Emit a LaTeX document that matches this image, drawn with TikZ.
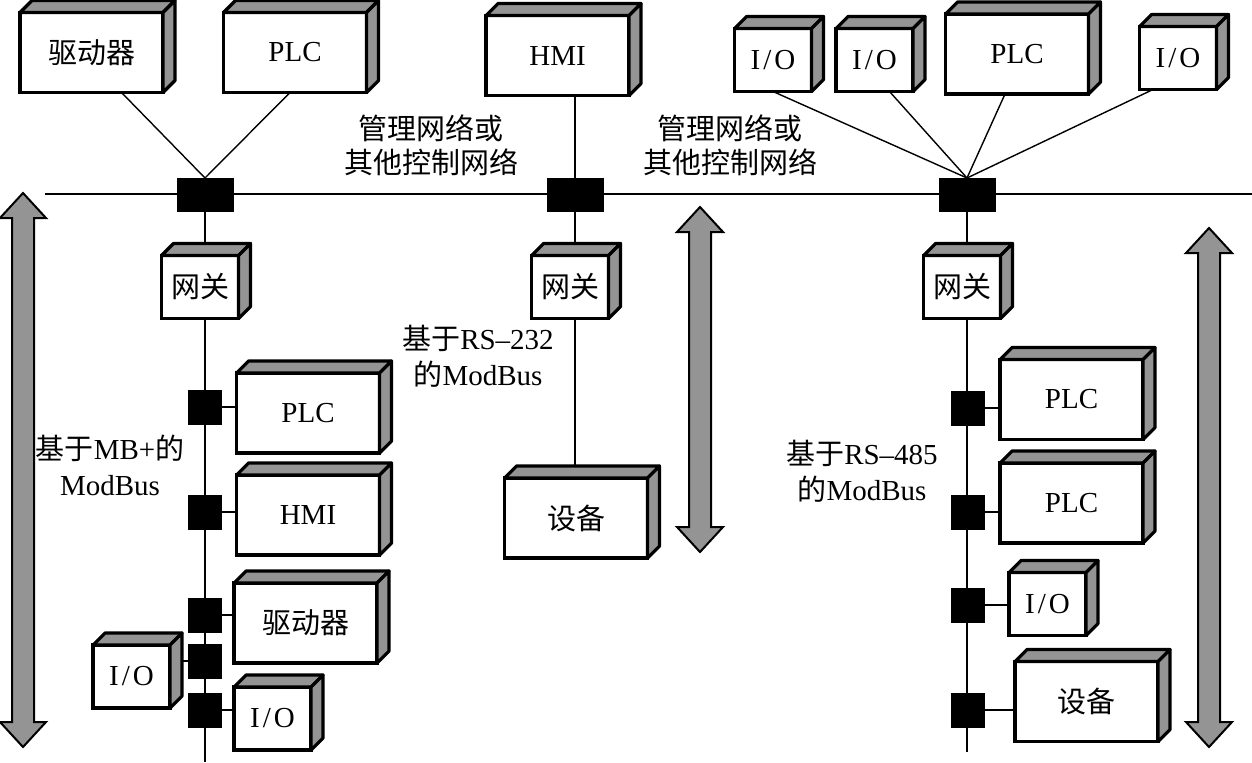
\documentclass[tikz,border=0pt]{standalone}
\usepackage{fontspec}
\setmainfont{Liberation Serif}
\newfontfamily\cjk{Noto Sans CJK SC}
\usetikzlibrary{backgrounds}
\definecolor{facegray}{RGB}{148,148,148}

% top and right face of a device box
\newcommand{\boxfaces}[1]{%
  \filldraw[face] (#1.north west) -- ++(12,-12) -- ([shift={(12,-12)}]#1.north east) -- (#1.north east) -- cycle;
  \filldraw[face] (#1.north east) -- ([shift={(12,-12)}]#1.north east) -- ([shift={(12,-12)}]#1.south east) -- (#1.south east) -- cycle;}
\newcommand{\io}{I\kern1.5pt/\kern1.5pt O}

\begin{document}
\begin{tikzpicture}[x=0.5pt, y=-0.5pt,
  every node/.style={font=\fontsize{14.5}{17}\selectfont},
  bigbox/.style={draw, fill=white, line width=1.6pt, outer sep=0pt, inner sep=0pt, minimum width=71.5pt, minimum height=40pt},
  smallbox/.style={bigbox, minimum width=38.5pt, minimum height=31.5pt},
  face/.style={fill=facegray, draw=black, line width=1.6pt, line join=round},
  busjoint/.style={fill=black, outer sep=0pt, inner sep=0pt, minimum width=28.5pt, minimum height=17pt},
  tapjoint/.style={busjoint, minimum width=17pt, minimum height=17.5pt},
  bus/.style={line width=1.4pt},
  wire/.style={line width=0.7pt},
  fatarrow/.style={fill=facegray, draw=black, line width=1pt}]
\useasboundingbox (0,0) rectangle (1252,762);

% top row
\node[bigbox] (drvT) at (91.5,52.5) {\cjk 驱动器};
\node[bigbox] (plcT) at (295,52.5) {PLC};
\node[bigbox] (hmiT) at (557.5,55.5) {HMI};
\node[smallbox] (ioA) at (773,60) {\io};
\node[smallbox] (ioB) at (874.5,60) {\io};
\node[bigbox] (plcTR) at (1017,54) {PLC};
\node[smallbox] (ioC) at (1178,58) {\io};

\node[busjoint] (jL) at (205,195) {};
\node[busjoint] (jM) at (575,195) {};
\node[busjoint] (jR) at (967,195) {};

\node[align=center, font=\fontsize{14.5}{17}\selectfont\cjk] (netA) at (431,145) {管理网络或\\其他控制网络};
\node[align=center, font=\fontsize{14.5}{17}\selectfont\cjk] (netB) at (730,145) {管理网络或\\其他控制网络};

% gateways
\node[smallbox] (gwL) at (200,287) {\cjk 网关};
\node[smallbox] (gwM) at (570,287) {\cjk 网关};
\node[smallbox] (gwR) at (962,287) {\cjk 网关};

% MB+ branch
\node[tapjoint] (tL1) at (205,407) {};
\node[tapjoint] (tL2) at (205,512) {};
\node[tapjoint] (tL3) at (205,615) {};
\node[tapjoint] (tL4) at (205,661) {};
\node[tapjoint] (tL5) at (205,710) {};
\node[bigbox] (plcL) at (308,413) {PLC};
\node[bigbox] (hmiL) at (308,515) {HMI};
\node[bigbox] (drvL) at (305.5,623) {\cjk 驱动器};
\node[smallbox] (ioL1) at (131.5,676.5) {\io};
\node[smallbox] (ioL2) at (272.5,718.5) {\io};
\node[align=center] (mbL) at (110,465) {{\cjk 基于}MB+{\cjk 的}\\[1pt]ModBus};

% RS-232 branch
\node[bigbox] (devM) at (576,518) {\cjk 设备};
\node[align=center] (rsM) at (478,356) {{\cjk 基于}RS--232\\[1pt]{\cjk 的}ModBus};

% RS-485 branch
\node[tapjoint] (tR1) at (968,408) {};
\node[tapjoint] (tR2) at (968,512) {};
\node[tapjoint] (tR3) at (968,605) {};
\node[tapjoint] (tR4) at (968,710) {};
\node[bigbox] (plcR1) at (1071.5,399.5) {PLC};
\node[bigbox] (plcR2) at (1071.5,503) {PLC};
\node[smallbox] (ioR) at (1047.5,604) {\io};
\node[bigbox] (devR) at (1086.5,701.5) {\cjk 设备};
\node[align=center] (rsR) at (862,471) {{\cjk 基于}RS--485\\[1pt]{\cjk 的}ModBus};

\boxfaces{drvT} \boxfaces{plcT} \boxfaces{hmiT} \boxfaces{ioA} \boxfaces{ioB} \boxfaces{plcTR} \boxfaces{ioC}
\boxfaces{gwL} \boxfaces{gwM} \boxfaces{gwR}
\boxfaces{plcL} \boxfaces{hmiL} \boxfaces{drvL} \boxfaces{ioL1} \boxfaces{ioL2}
\boxfaces{devM}
\boxfaces{plcR1} \boxfaces{plcR2} \boxfaces{ioR} \boxfaces{devR}

% level arrows
\filldraw[fatarrow] (23,193) -- (46,218) -- (34,218) -- (34,722) -- (46,722) -- (23,747) -- (0,722) -- (12,722) -- (12,218) -- (0,218) -- cycle;
\filldraw[fatarrow] (700,207) -- (723,232) -- (711,232) -- (711,527) -- (723,527) -- (700,552) -- (677,527) -- (689,527) -- (689,232) -- (677,232) -- cycle;
\filldraw[fatarrow] (1209,228) -- (1232,253) -- (1220,253) -- (1220,722) -- (1232,722) -- (1209,747) -- (1186,722) -- (1198,722) -- (1198,253) -- (1186,253) -- cycle;

\begin{scope}[on background layer]
\coordinate (busW) at (45,194);
\coordinate (busE) at (1252,194);
\coordinate (endL) at (205,762);
\coordinate (endR) at (968,752);
\draw[bus] (busW) -- (busE);
\draw[wire] ([xshift=15pt]drvT.south) -- (jL.north);
\draw[wire] ([xshift=-2.5pt]plcT.south) -- (jL.north);
\draw[wire] (ioA.south) -- (jR.north);
\draw[wire] ([xshift=7.5pt]ioB.south) -- (jR.north);
\draw[wire] ([xshift=-6pt]plcTR.south) -- (jR.north);
\draw[wire] ([xshift=-12.5pt]ioC.south) -- (jR.north);
\draw[wire] (jL) -- (endL);
\draw[wire] (jM |- hmiT.south) -- (jM |- devM.north);
\draw[wire] (jR) -- (jR |- endR);
\draw[wire] (tL1.east) -- (tL1.east -| plcL.west);
\draw[wire] (tL2.east) -- (tL2.east -| hmiL.west);
\draw[wire] (tL3.east) -- (tL3.east -| drvL.west);
\draw[wire] (tL4.west) -- (tL4.west -| ioL1.east);
\draw[wire] (tL5.east) -- (tL5.east -| ioL2.west);
\draw[wire] (tR1.east) -- (tR1.east -| plcR1.west);
\draw[wire] (tR2.east) -- (tR2.east -| plcR2.west);
\draw[wire] (tR3.east) -- (tR3.east -| ioR.west);
\draw[wire] (tR4.east) -- (tR4.east -| devR.west);
\end{scope}
\end{tikzpicture}
\end{document}
